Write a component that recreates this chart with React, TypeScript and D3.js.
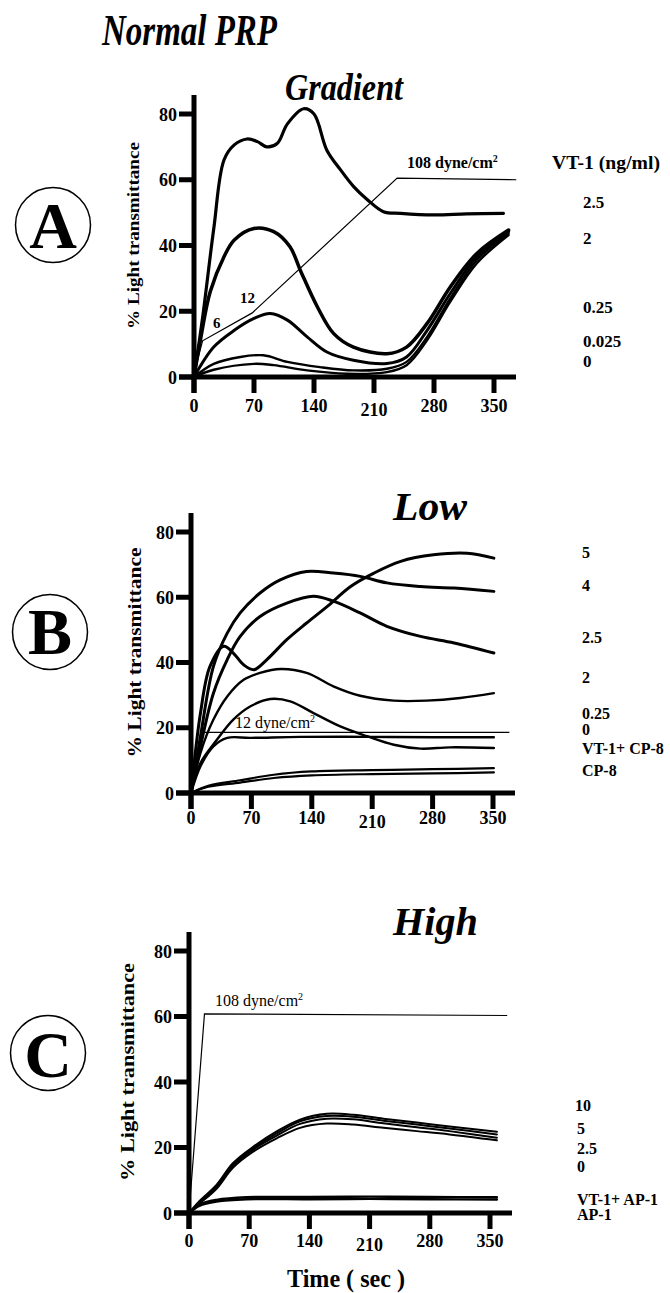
import React from "react";
import * as d3 from "d3";

type Pt = [number, number];

const xTicks = [0, 70, 140, 210, 280, 350];
const yTicks = [0, 20, 40, 60, 80];

// Panel A – Gradient
const aVT2_5: Pt[] = [[0,0],[10,18],[23,45],[35,66],[47,70.6],[62,72.4],[74,71.6],[85,70],[97,71],[109,77],[128,81.6],[140,80],[155,69],[171,63],[186,58],[202,54],[221,50.3],[241,49.8],[279,49.3],[318,49.6],[361,49.8]];
const aVT2: Pt[] = [[0,0],[8,12],[19,26],[35,36.6],[47,41.7],[70,45.2],[93,44.2],[112,39.6],[124,32.5],[144,21.3],[163,13.2],[186,9.1],[225,7.1],[248,9.1],[272,16.3],[299,27.4],[330,37.6],[367,44.7]];
const aVT0_25: Pt[] = [[0,0],[23,9.1],[47,14.2],[70,17.8],[89,19.3],[109,17.3],[132,12.2],[155,7.6],[186,5.1],[225,4.1],[248,6.1],[272,14.2],[299,25.4],[330,36.6],[367,44.2]];
const aVT0_025: Pt[] = [[0,0],[23,4],[54,6.1],[81,6.6],[109,4.6],[147,3],[186,2],[225,2.5],[248,4.6],[272,12.2],[299,23.9],[330,35.6],[367,43.7]];
const aVT0: Pt[] = [[0,0],[23,2.2],[70,4],[93,3.6],[132,2],[178,1],[225,1.5],[248,3.6],[272,11.2],[299,22.9],[330,34.6],[367,43.2]];
const aShear: Pt[] = [[2,3],[10,11],[68,19.5],[237,60.5],[376,60]];

// Panel B – Low
const bVT5: Pt[] = [[0,0],[11,24.5],[22,38.8],[38,45],[49,42.9],[61,39.3],[73,37.8],[88,40.9],[111,47],[134,52.1],[158,57.2],[185,63.3],[212,67.4],[243,71],[281,73],[320,73.5],[351,72]];
const bVT4: Pt[] = [[0,0],[11,17.4],[26,38.8],[42,49],[57,55.2],[80,61.3],[104,65.4],[134,67.9],[165,67.4],[196,66.4],[227,64.4],[266,63.3],[305,62.8],[351,61.8]];
const bVT2_5: Pt[] = [[0,0],[11,14.3],[26,30.6],[42,40.9],[57,48],[80,54.1],[111,58.2],[142,60.3],[165,58.8],[196,55.2],[227,51.1],[266,48],[305,46],[351,42.9]];
const bVT2: Pt[] = [[0,0],[11,12.3],[26,22.5],[42,29.6],[61,34.7],[80,36.8],[104,38],[134,36.8],[165,32.7],[196,29.8],[235,28.3],[273,28.3],[312,29.1],[351,30.6]];
const bVT0_25: Pt[] = [[0,0],[11,9.2],[30,16.3],[49,22.5],[69,26.6],[92,28.8],[115,28.1],[142,24.5],[173,20.4],[204,17.4],[235,14.8],[266,13.6],[300,14],[351,13.8]];
const bVT0: Pt[] = [[0,0],[11,8.2],[26,14.3],[42,16.9],[69,16.9],[127,17.2],[204,17.2],[281,17.1],[351,17.1]];
const bVTCP8: Pt[] = [[0,0],[20,2.2],[57,3.9],[96,5.6],[140,6.6],[210,7],[280,7.3],[351,7.6]];
const bCP8: Pt[] = [[0,0],[20,1.9],[57,3.2],[96,4.6],[140,5.4],[210,5.8],[280,6],[351,6.3]];
const bShear: Pt[] = [[0,0],[12,18.6],[369,18.6]];

// Panel C – High
const cVT10: Pt[] = [[0,0],[12,3.6],[32,8.6],[51,15.2],[75,20.3],[102,24.9],[129,28.5],[160,30.3],[191,30],[226,28.8],[265,27.6],[303,26.4],[358,24.8]];
const cVT5: Pt[] = [[0,0],[12,3.2],[32,8.2],[51,14.8],[75,19.8],[102,24.3],[129,28],[160,29.6],[191,29.4],[226,28.2],[265,27],[303,25.8],[358,24]];
const cVT2_5: Pt[] = [[0,0],[12,3],[32,7.8],[51,14.4],[75,19.4],[102,23.6],[129,27.2],[160,28.8],[191,28.6],[226,27.4],[265,26.2],[303,25],[358,23]];
const cVT0: Pt[] = [[0,0],[12,2.8],[32,7.4],[51,13.8],[75,18.8],[102,22.8],[129,26],[160,27.3],[191,27],[226,26],[265,25],[303,24],[358,22.2]];
const cVTAP1: Pt[] = [[0,0],[12,2.6],[32,4],[67,4.8],[140,4.9],[210,5],[280,4.9],[358,4.8]];
const cAP1: Pt[] = [[0,0],[12,2.2],[32,3.5],[67,4.2],[140,4.2],[210,4.3],[280,4.2],[358,4.1]];
const cShear: Pt[] = [[0,0],[18,60.8],[370,60.3]];

const aLabels = ["2.5", "2", "0.25", "0.025", "0"];
const bLabels = ["5", "4", "2.5", "2", "0.25", "0", "VT-1+ CP-8", "CP-8"];
const cLabels = ["10", "5", "2.5", "0", "VT-1+ AP-1", "AP-1"];

const FONT = "'Liberation Serif', 'Times New Roman', Times, serif";

interface Curve { data: Pt[]; w: number }
interface PanelProps {
  xr: [number, number];
  yr: [number, number];
  curves: Curve[];
  shear: Pt[];
  tickDy: number;
  yLabelX: number;
  yLabelLen: number;
  yLabelSize: number;
}

function Panel({ xr, yr, curves, shear, tickDy, yLabelX, yLabelLen, yLabelSize }: PanelProps) {
  const x = d3.scaleLinear().domain([0, 350]).range(xr);
  const y = d3.scaleLinear().domain([0, 80]).range(yr);
  const line = d3.line<Pt>().x(d => x(d[0])).y(d => y(d[1])).curve(d3.curveCatmullRom.alpha(0.5));
  const straight = d3.line<Pt>().x(d => x(d[0])).y(d => y(d[1]));
  const x0 = x(0), y0 = y(0);
  const yMid = (y(0) + y(80)) / 2 - 10;
  return (
    <g>
      <path d={straight(shear) || ""} fill="none" stroke="#000" strokeWidth={1.2} />
      {curves.map((c, i) => (
        <path key={i} d={line(c.data) || ""} fill="none" stroke="#000" strokeWidth={c.w} strokeLinejoin="round" strokeLinecap="round" />
      ))}
      <line x1={x0} x2={x0} y1={y(80) - 19} y2={y0 + 16} stroke="#000" strokeWidth={5} />
      <line x1={x0 - 15} x2={x(350) + 22} y1={y0} y2={y0} stroke="#000" strokeWidth={5} />
      {yTicks.map(t => (
        <g key={"y" + t}>
          <line x1={x0 - 15} x2={x0} y1={y(t)} y2={y(t)} stroke="#000" strokeWidth={5} />
          <text x={x0 - 17} y={y(t) + 6.5} textAnchor="end" fontFamily={FONT} fontWeight="bold" fontSize={18}>{t}</text>
        </g>
      ))}
      {xTicks.map(t => (
        <g key={"x" + t}>
          <line x1={x(t)} x2={x(t)} y1={y0} y2={y0 + 16} stroke="#000" strokeWidth={5} />
          <text x={x(t)} y={y0 + tickDy + (t === 210 ? 4 : 0)} textAnchor="middle" fontFamily={FONT} fontWeight="bold" fontSize={18}>{t}</text>
        </g>
      ))}
      <text transform={`translate(${yLabelX},${yMid}) rotate(-90)`} textAnchor="middle" fontFamily={FONT} fontWeight="bold" fontSize={yLabelSize} textLength={yLabelLen} lengthAdjust="spacingAndGlyphs">% Light transmittance</text>
    </g>
  );
}

function Circled({ cx, cy, letter, base }: { cx: number; cy: number; letter: string; base: number }) {
  return (
    <g>
      <circle cx={cx} cy={cy} r={37.5} fill="none" stroke="#000" strokeWidth={1.5} />
      <text x={cx} y={base} textAnchor="middle" fontFamily={FONT} fontWeight="bold" fontSize={66}>{letter}</text>
    </g>
  );
}

export default function App() {
  const lbl = { fontFamily: FONT, fontWeight: "bold" as const };
  const aY = [208, 244, 313, 347, 367];
  const bY = [558, 591, 643, 683, 719, 735, 754, 776];
  const cY = [1111, 1134, 1154, 1172, 1205, 1220];
  return (
    <svg width={670} height={1293} style={{ position: "absolute", left: 0, top: 0, background: "#fff" }}>
      <rect width={670} height={1293} fill="#fff" />
      <text x={102} y={45} fontFamily={FONT} fontWeight="bold" fontStyle="italic" fontSize={44} textLength={175} lengthAdjust="spacingAndGlyphs">Normal PRP</text>
      <text x={285} y={100} fontFamily={FONT} fontWeight="bold" fontStyle="italic" fontSize={38} textLength={118} lengthAdjust="spacingAndGlyphs">Gradient</text>
      <text x={393} y={520} fontFamily={FONT} fontWeight="bold" fontStyle="italic" fontSize={40} textLength={74} lengthAdjust="spacingAndGlyphs">Low</text>
      <text x={393} y={935} fontFamily={FONT} fontWeight="bold" fontStyle="italic" fontSize={40} textLength={85} lengthAdjust="spacingAndGlyphs">High</text>

      <Circled cx={53} cy={225} letter="A" base={248} />
      <Circled cx={50} cy={632} letter="B" base={654} />
      <Circled cx={48} cy={1053} letter="C" base={1077} />

      {/* Panel A */}
      <Panel xr={[194, 494]} yr={[377, 114]} tickDy={35} yLabelX={139} yLabelLen={187} yLabelSize={17}
        shear={aShear}
        curves={[
          { data: aVT2_5, w: 3.2 }, { data: aVT2, w: 3.5 }, { data: aVT0_25, w: 3 },
          { data: aVT0_025, w: 2.4 }, { data: aVT0, w: 2.4 },
        ]} />
      <text x={407} y={168} {...lbl} fontSize={16}>108 dyne/cm<tspan fontSize={10} dy={-6}>2</tspan></text>
      <text x={213} y={328} {...lbl} fontSize={15}>6</text>
      <text x={240} y={303} {...lbl} fontSize={15}>12</text>
      <text x={552} y={169} {...lbl} fontSize={18} textLength={108} lengthAdjust="spacingAndGlyphs">VT-1 (ng/ml)</text>
      {aLabels.map((l, i) => <text key={l} x={583} y={aY[i]} {...lbl} fontSize={17}>{l}</text>)}

      {/* Panel B */}
      <Panel xr={[191, 493]} yr={[793, 532]} tickDy={31} yLabelX={141} yLabelLen={210} yLabelSize={18}
        shear={bShear}
        curves={[
          { data: bVT5, w: 3 }, { data: bVT4, w: 3 }, { data: bVT2_5, w: 3 }, { data: bVT2, w: 2.4 },
          { data: bVT0_25, w: 2.4 }, { data: bVT0, w: 2.4 }, { data: bVTCP8, w: 2.2 }, { data: bCP8, w: 2.2 },
        ]} />
      <text x={235} y={728} fontFamily={FONT} fontSize={16}>12 dyne/cm<tspan fontSize={10} dy={-6}>2</tspan></text>
      {bLabels.map((l, i) => <text key={l} x={582} y={bY[i]} {...lbl} fontSize={16}>{l}</text>)}

      {/* Panel C */}
      <Panel xr={[189, 490]} yr={[1213, 951]} tickDy={34} yLabelX={134} yLabelLen={218} yLabelSize={18}
        shear={cShear}
        curves={[
          { data: cVT10, w: 2 }, { data: cVT5, w: 2 }, { data: cVT2_5, w: 2 }, { data: cVT0, w: 2 },
          { data: cVTAP1, w: 2.4 }, { data: cAP1, w: 2.4 },
        ]} />
      <text x={215} y={1006} fontFamily={FONT} fontSize={16}>108 dyne/cm<tspan fontSize={10} dy={-6}>2</tspan></text>
      {cLabels.map((l, i) => <text key={l} x={i === 0 ? 575 : 577} y={cY[i]} {...lbl} fontSize={16}>{l}</text>)}
      <text x={287} y={1287} {...lbl} fontSize={25} textLength={118} lengthAdjust="spacingAndGlyphs">Time ( sec )</text>
    </svg>
  );
}
